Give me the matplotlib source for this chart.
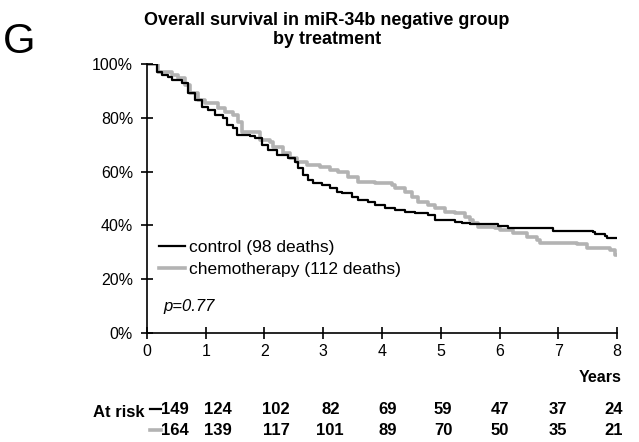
import matplotlib
matplotlib.use("Agg")
import matplotlib.pyplot as plt

plt.rcParams['font.family'] = ['Liberation Sans', 'DejaVu Sans']

# step change points (years, % surviving)
control_t = [0, 0.17, 0.26, 0.36, 0.43, 0.6, 0.7, 0.82, 0.94, 1.04, 1.16, 1.29,
             1.36, 1.46, 1.53, 1.75, 1.84, 1.96, 2.06, 2.21, 2.4, 2.52, 2.57,
             2.66, 2.74, 2.83, 2.98, 3.11, 3.23, 3.32, 3.49, 3.59, 3.76, 3.88,
             4.05, 4.22, 4.39, 4.56, 4.78, 4.9, 5.24, 5.36, 5.5, 5.97, 6.14,
             6.91, 7.59, 7.63, 7.8, 7.83, 8.0]
control_s = [100, 97, 95.9, 95.2, 94, 92.9, 89.2, 86.6, 84, 82.9, 81, 80,
             77.3, 76.2, 73.6, 73.2, 72.5, 69.9, 68, 66.2, 65, 63.6, 61.3,
             58.7, 56.9, 55.8, 55, 53.9, 52.4, 52, 50.6, 49.4, 48.7, 47.6,
             46.5, 45.7, 45, 44.6, 43.9, 42, 41.3, 40.9, 40.5, 39.8, 39,
             37.9, 37.5, 36.8, 36.1, 35.3, 35.3]
chemo_t = [0, 0.19, 0.43, 0.53, 0.65, 0.73, 0.87, 0.99, 1.21, 1.33, 1.46, 1.55,
           1.62, 1.92, 2.09, 2.14, 2.31, 2.43, 2.55, 2.72, 2.94, 3.11, 3.25,
           3.42, 3.59, 3.88, 4.17, 4.22, 4.39, 4.51, 4.61, 4.78, 4.9, 5.07,
           5.24, 5.41, 5.5, 5.55, 5.63, 5.92, 6.01, 6.23, 6.47, 6.64, 6.69,
           7.32, 7.49, 7.88, 7.97, 8.0]
chemo_s = [100, 97, 95.9, 94.8, 92.2, 89.2, 86.6, 85.5, 83.6, 82.2, 81, 78.4,
           74.7, 71.7, 71, 69.1, 66.9, 65, 63.6, 62.5, 61.7, 60.6, 59.9,
           58, 56.1, 55.8, 55, 53.9, 52.4, 50.6, 48.7, 47.6, 46.5, 45,
           44.6, 43.1, 42, 40.9, 39.4, 39, 38.3, 37.2, 35.7, 34.6, 33.5,
           33.1, 31.6, 30.9, 29, 29]

years = [0, 1, 2, 3, 4, 5, 6, 7, 8]
risk_control = [149, 124, 102, 82, 69, 59, 47, 37, 24]
risk_chemo = [164, 139, 117, 101, 89, 70, 50, 35, 21]

GREY = '#b3b3b3'

fig = plt.figure(figsize=(6.39, 4.42), dpi=100)
ax = fig.add_axes([0.230, 0.2466, 0.7356, 0.6084])

ax.plot(control_t, control_s, drawstyle='steps-post', color='black', lw=1.6,
        label='control (98 deaths)', zorder=3)
ax.plot(chemo_t, chemo_s, drawstyle='steps-post', color=GREY, lw=2.6,
        label='chemotherapy (112 deaths)', zorder=2)

ax.set_xlim(0, 8)
ax.set_ylim(0, 100)
ax.set_xticks(years)
ax.set_yticks([0, 20, 40, 60, 80, 100])
ax.set_yticklabels(['0%', '20%', '40%', '60%', '80%', '100%'])
for s in ['top', 'right']:
    ax.spines[s].set_visible(False)
for s in ['left', 'bottom']:
    ax.spines[s].set_linewidth(1.2)
ax.tick_params(direction='inout', length=8, width=1.2, labelsize=11.5, pad=4)
ax.tick_params(axis='y', pad=6)

ax.legend(loc='center left', bbox_to_anchor=(0.0, 0.277), frameon=False,
          fontsize=12.5, handlelength=1.5, handletextpad=0.2, labelspacing=0.35,
          borderpad=0.2)
ax.text(0.035, 0.08, 'p=0.77', transform=ax.transAxes, style='italic', fontsize=12)

fig.text(0.512, 0.932, 'Overall survival in miR-34b negative group\nby treatment',
         ha='center', va='center', fontsize=13, fontweight='bold', linespacing=1.2)
fig.text(0.005, 0.905, 'G', fontsize=30, va='center')
fig.text(0.972, 0.147, 'Years', ha='right', va='center', fontsize=11.5, fontweight='bold')

# at-risk table
xaxis = ax.get_xaxis_transform()
fig.text(0.145, 0.066, 'At risk', ha='left', va='center', fontsize=12, fontweight='bold')
xpos = [0.48, 1.2, 2.2, 3.12, 4.1, 5.04, 6.0, 7.0, 7.95]
for i in range(len(years)):
    ax.text(xpos[i], -0.286, str(risk_control[i]), transform=xaxis,
            ha='center', va='center', fontsize=12, fontweight='bold')
    ax.text(xpos[i], -0.364, str(risk_chemo[i]), transform=xaxis,
            ha='center', va='center', fontsize=12, fontweight='bold')
ax.plot([0.05, 0.24], [-0.283, -0.283], color='black', lw=1.6,
        transform=xaxis, clip_on=False)
ax.plot([0.05, 0.24], [-0.361, -0.361], color=GREY, lw=2.6,
        transform=xaxis, clip_on=False)

fig.savefig('out.png', dpi=100)
